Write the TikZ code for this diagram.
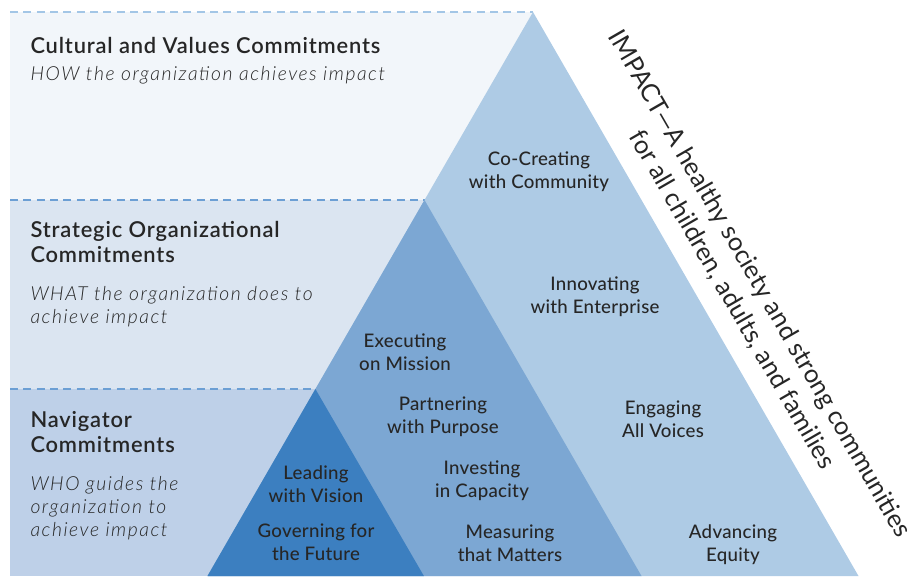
\documentclass[tikz,border=0pt]{standalone}
\usepackage{fontspec}
\setmainfont{Lato}
\IfFontExistsTF{Lato Semibold}{\newfontfamily\headfont{Lato Semibold}}{\newcommand\headfont{\bfseries}}
\IfFontExistsTF{Lato Light Italic}{\newfontfamily\subfont{Lato Light Italic}}{\newcommand\subfont{\itshape}}
\IfFontExistsTF{Lato Medium}{\newfontfamily\lblfont{Lato Medium}}{\newcommand\lblfont{\normalfont}}
\usetikzlibrary{positioning}

\definecolor{bandA}{RGB}{242,246,250}
\definecolor{bandB}{RGB}{219,229,241}
\definecolor{bandC}{RGB}{190,208,232}
\definecolor{triA}{RGB}{174,203,229}
\definecolor{triB}{RGB}{124,167,211}
\definecolor{triC}{RGB}{60,127,192}
\definecolor{dashA}{RGB}{163,198,230}
\definecolor{dashB}{RGB}{108,159,212}
\definecolor{ink}{RGB}{38,38,38}

\tikzset{every picture/.style={line width=0.75pt}}
\tikzset{
  head/.style={anchor=base west, align=left, inner sep=0pt, text=ink, font=\fontsize{16.4}{18.75}\headfont\addfontfeatures{LetterSpace=3.8}},
  subline/.style={anchor=base west, align=left, inner sep=0pt, text=ink, font=\fontsize{14.5}{17}\subfont\addfontfeatures{LetterSpace=8}},
  lbl/.style={anchor=base, align=center, inner sep=0pt, text=ink, font=\fontsize{14}{17}\lblfont\addfontfeatures{LetterSpace=1.5}},
  sep/.style={dash pattern=on 6pt off 4pt, line width=1.5pt},
}

\begin{document}
\begin{tikzpicture}[x=0.75pt,y=0.75pt,yscale=-1,xscale=1]
\useasboundingbox (0,0) rectangle (919,576);

%Apexes of the three triangles
\coordinate (topA) at (533,12);
\coordinate (topB) at (424.5,200);
\coordinate (topC) at (315.4,389);

%Shape: Bands
\fill [bandA] (10,12) rectangle (topB -| topA);
\fill [bandB] (10,200) rectangle (topC -| topB);
\fill [bandC] (10,389) rectangle (316,576);

%Straight Lines [dashed]
\draw [sep, dashA] (10,12) -- (topA);
\draw [sep, dashB] (10,200) -- (topB);
\draw [sep, dashB] (10,389) -- (topC);

%Shape: Triangles
\fill [triA] (topA) -- (858.5,576) -- (207.5,576) -- cycle;
\fill [triB] (topB) -- (641.5,576) -- (207.5,576) -- cycle;
\fill [triC] (topC) -- (423.9,576) -- (207.5,576) -- cycle;

% Text Node (anchored on the last baseline)
\node [head] (culture) at (30,53) {Cultural and Values Commitments};
\node [subline] (how) at (30,80) {HOW the organization achieves impact};
% Text Node
\node [head] (strategy) at (30,262) {Strategic Organizational\\Commitments};
\node [subline] (what) at (30,323) {WHAT the organization does to\\achieve impact};
% Text Node
\node [head] (navigator) at (30,452) {Navigator\\Commitments};
\node [subline] (who) at (30,536) {WHO guides the\\organization to\\achieve impact};

% Text Node
\node [lbl] (cocreate) at (539,188) {Co-Creating\\with Community};
\node [lbl] (innovate) at (595,313) {Innovating\\with Enterprise};
\node [lbl] (engage) at (663,437) {Engaging\\All Voices};
\node [lbl] (equity) at (733,561) {Advancing\\Equity};
% Text Node
\node [lbl] (execute) at (405,370) {Executing\\on Mission};
\node [lbl] (partner) at (443,433) {Partnering\\with Purpose};
\node [lbl] (invest) at (482,497) {Investing\\in Capacity};
\node [lbl] (measure) at (510,561) {Measuring\\that Matters};
% Text Node
\node [lbl] (lead) at (316,502) {Leading\\with Vision};
\node [lbl] (govern) at (316,560) {Governing for\\the Future};

% Text Node
\node [rotate=-60, align=center, inner sep=0pt, text=ink, font=\fontsize{19}{24}\selectfont\addfontfeatures{LetterSpace=0.5}] (impact) at (745.5,292) {IMPACT---A healthy society and strong communities\\for all children, adults, and families};

\end{tikzpicture}
\end{document}
